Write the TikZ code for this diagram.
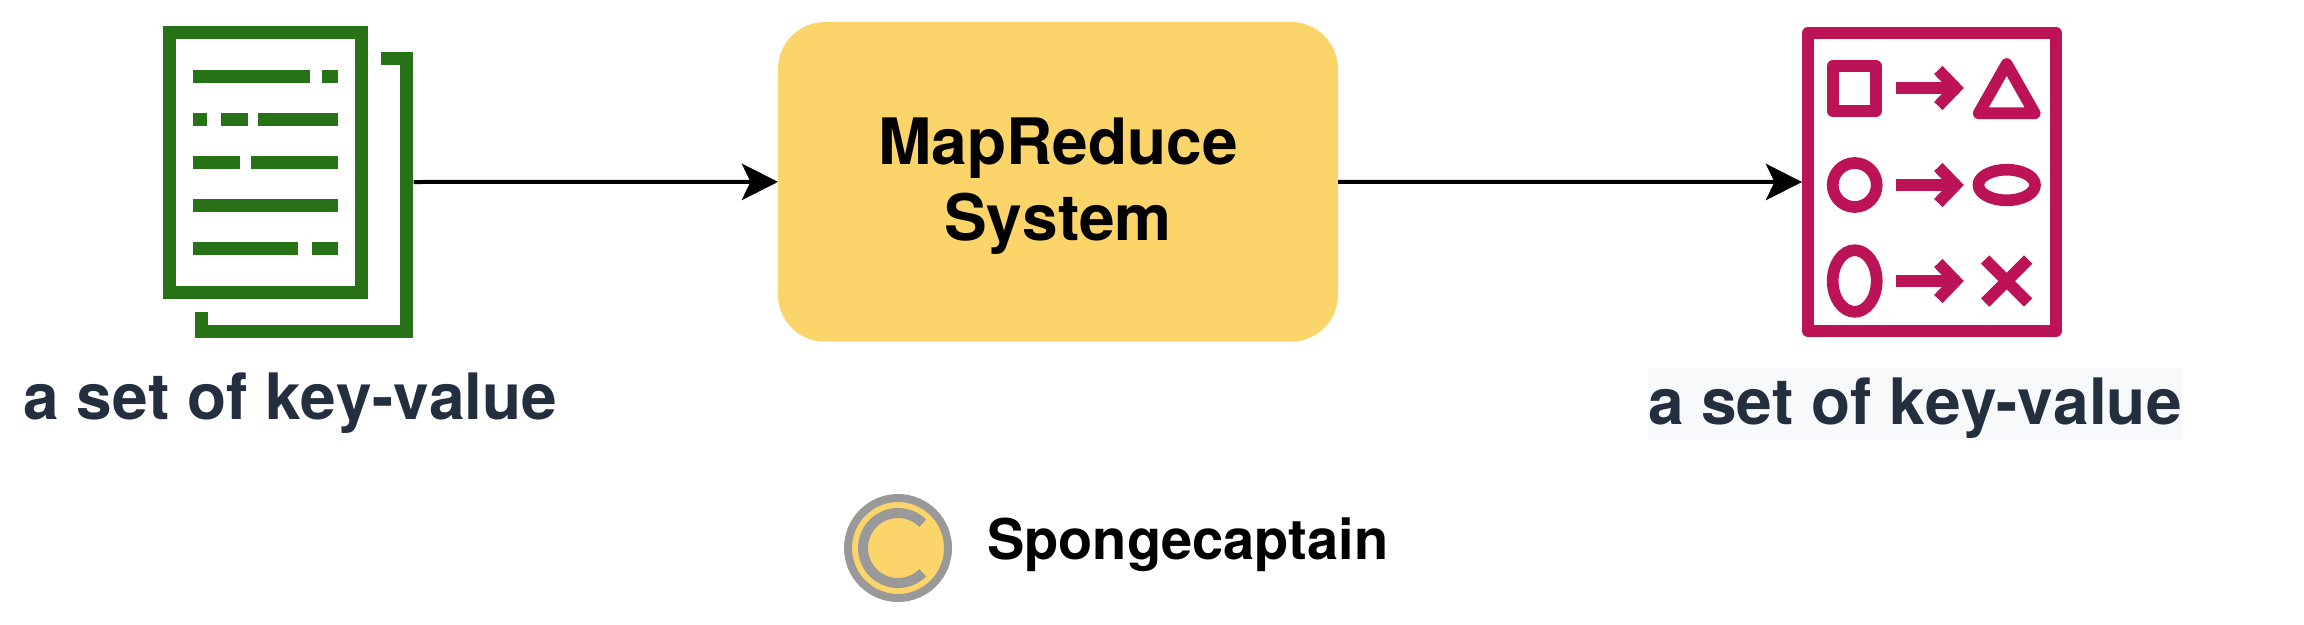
\documentclass[tikz,border=0pt]{standalone}
\usepackage{fontspec}
\setmainfont{TeX Gyre Heros}[Kerning=Off]
\usetikzlibrary{arrows.meta}
\definecolor{docgreen}{HTML}{277116}
\definecolor{resred}{HTML}{BC1356}
\definecolor{boxyellow}{HTML}{FCD56A}
\definecolor{labelink}{HTML}{232F3E}
\definecolor{labelbg}{HTML}{F8F9FA}
\definecolor{logogray}{HTML}{999999}
\tikzset{
  anchorbox/.style={inner sep=0pt,outer sep=0pt,draw=none,fill=none},
  mainbox/.style={fill=boxyellow,draw=none,rounded corners=47pt,minimum width=560pt,minimum height=319.7pt,inner sep=0pt,outer sep=0pt,font=\fontsize{64}{76}\selectfont\bfseries},
  keylabel/.style={text=labelink,font=\fontsize{64}{76}\selectfont\bfseries,anchor=base west,inner sep=0pt,outer sep=0pt},
  flow/.style={line width=4pt,-{Stealth[length=36.5pt,width=37pt,inset=9pt,line width=0pt]}},
  docline/.style={draw=docgreen,line width=13pt,miter limit=10},
  docbar/.style={fill=docgreen,draw=none},
  resline/.style={draw=resred,line width=11.7pt,line join=round},
  reshead/.style={draw=resred,line width=11.7pt,miter limit=10},
}
\newcommand{\docbars}[2]{\foreach \a/\b in {#2}{\fill[docbar] ({140+\a/3},{#1-6.5}) rectangle ({140+\b/3},{#1+6.5});}}
\newcommand{\resarrow}[1]{%
  \draw[reshead] (1895.7,#1) -- (1954,#1);
  \draw[reshead] (1938.3,{#1-18}) -- (1955.7,#1) -- (1938.3,{#1+18});}
\begin{document}
\begin{tikzpicture}[x=1pt,y=-1pt]
\useasboundingbox (0,0) rectangle (2304,624);
% anchors for the two icons
\node[anchorbox,minimum width=251pt,minimum height=300pt] (doc) at (288,182) {};
\node[anchorbox,minimum width=260pt,minimum height=310pt] (res) at (1932,182) {};
% document icon
\draw[docline] (169.2,32.5) rectangle (361.5,292.2);
\draw[docline] (381,58) -- (406.7,58) -- (406.7,331.3) -- (201.7,331.3) -- (201.7,312);
\docbars{76}{158/510,545/594}
\docbars{119.3}{158/202,242/324,354/594}
\docbars{162.3}{158/299,333/594}
\docbars{205.3}{158/594}
\docbars{248.3}{158/474,517/594}
% centre box
\node[mainbox] (box) at (1058,181.85) {\raisebox{17.85pt}[0pt][0pt]{\begin{tabular}[t]{@{}c@{}}MapReduce\\System\end{tabular}}\hspace{5pt}};
% result icon
\draw[resline] (1808,33) rectangle (2056,331);
\draw[resline] (1832.7,66.3) rectangle (1876,111);
\draw[resline] (2006.7,64) -- (2034.7,113.3) -- (1978.7,113.3) -- cycle;
\draw[resline] (1854.7,185) circle (22pt);
\draw[resline] (2006.7,185) ellipse (28.3pt and 15.3pt);
\draw[resline] (1854.7,281) ellipse (22pt and 30.8pt);
\resarrow{88}
\resarrow{185}
\resarrow{281}
\draw[reshead] (1985.2,259.5) -- (2028.2,302.5);
\draw[reshead] (2028.2,259.5) -- (1985.2,302.5);
% connectors
\draw[flow] (doc.east) -- (box.west);
\draw[flow] (box.east) -- (res.west);
% labels
\node[keylabel] (leftlabel) at (23.5,419.3) {a set of key-value};
\node[keylabel,fill=labelbg,text height=56pt,text depth=16pt] (rightlabel) at (1648,424) {a set of key-value};
% copyright mark
\node[circle,fill=boxyellow,draw=logogray,line width=8pt,minimum size=100pt,inner sep=0pt,outer sep=0pt] (logo) at (898,548) {};
\draw[logogray,line width=10pt] (922.75,523.25) arc[start angle=45,end angle=315,radius=35pt];
\node[anchor=base west,inner sep=0pt,outer sep=0pt,font=\fontsize{56}{67}\selectfont\bfseries] (owner) at (987,559) {Spongecaptain};
\end{tikzpicture}
\end{document}
